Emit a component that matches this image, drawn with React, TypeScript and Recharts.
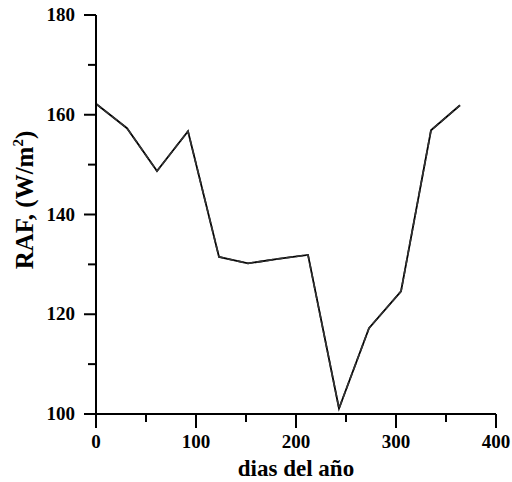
import { LineChart, Line, XAxis, YAxis, Label } from 'recharts';

// day of year vs. RAF (W/m2)
const days = [0, 31, 61, 92, 123, 152, 182, 212, 243, 273, 305, 335, 364];
const rafSolid = [162.2, 157.3, 148.7, 156.7, 131.5, 130.2, 131.1, 131.9, 101.1, 117.2, 124.6, 156.9, 161.9];
const rafDashed = [162.2, 157.3, 148.7, 156.7, 131.5, 130.2, 131.1, 131.9, 101.1, 117.2, 124.6, 156.9, 161.9];

const xTicks = [0, 50, 100, 150, 200, 250, 300, 350, 400];
const yTicks = [100, 110, 120, 130, 140, 150, 160, 170, 180];

const font = '"Liberation Serif", "Times New Roman", serif';

const data = days.map((d, i) => ({ day: d, solid: rafSolid[i], dashed: rafDashed[i] }));

const XTick = ({ x, y, payload }: any) => {
  const major = payload.value % 100 === 0;
  return (
    <g>
      <line x1={x} x2={x} y1={y} y2={y + (major ? 14 : 8)} stroke="#000" strokeWidth={2} />
      {major && (
        <text x={x} y={y + 34} textAnchor="middle" fontFamily={font} fontWeight="bold" fontSize={19} fill="#000">
          {payload.value}
        </text>
      )}
    </g>
  );
};

const YTick = ({ x, y, payload }: any) => {
  const major = payload.value % 20 === 0;
  return (
    <g>
      <line x1={x} x2={x - (major ? 12 : 8)} y1={y} y2={y} stroke="#000" strokeWidth={2} />
      {major && (
        <text x={x - 21} y={y + 6} textAnchor="end" fontFamily={font} fontWeight="bold" fontSize={19} fill="#000">
          {payload.value}
        </text>
      )}
    </g>
  );
};

export default function App() {
  return (
    <div style={{ position: 'absolute', left: 0, top: 0, background: '#fff' }}>
      <LineChart width={512} height={482} data={data} margin={{ top: 15, right: 16, left: 0, bottom: 0 }}>
        <XAxis
          dataKey="day"
          type="number"
          domain={[0, 400]}
          ticks={xTicks}
          interval={0}
          tickSize={0}
          tickMargin={0}
          tick={<XTick />}
          height={68}
          axisLine={{ stroke: '#000', strokeWidth: 2 }}
          tickLine={false}
        >
          <Label
            content={() => (
              <text x={296} y={476} textAnchor="middle" fontFamily={font} fontWeight="bold" fontSize={23} fill="#000">
                dias del año
              </text>
            )}
          />
        </XAxis>
        <YAxis
          type="number"
          domain={[100, 180]}
          ticks={yTicks}
          interval={0}
          tickSize={0}
          tickMargin={0}
          tick={<YTick />}
          width={96}
          axisLine={{ stroke: '#000', strokeWidth: 2 }}
          tickLine={false}
        >
          <Label
            content={() => (
              <text
                transform="translate(33, 200) rotate(-90)"
                textAnchor="middle"
                fontFamily={font}
                fontWeight="bold"
                fontSize={25}
                fill="#000"
              >
                RAF, (W/m<tspan dy={-10} fontSize={15}>2</tspan>
                <tspan dy={10}>)</tspan>
              </text>
            )}
          />
        </YAxis>
        <Line dataKey="solid" stroke="#000" strokeWidth={1.8} dot={false} isAnimationActive={false} />
        <Line dataKey="dashed" stroke="#333" strokeWidth={1.6} strokeDasharray="7 3" dot={false} isAnimationActive={false} />
      </LineChart>
    </div>
  );
}
